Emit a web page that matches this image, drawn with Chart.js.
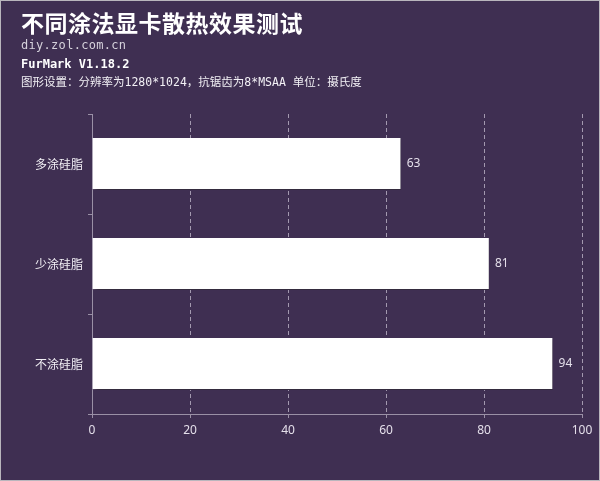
<!DOCTYPE html>
<html>
<head>
<meta charset="utf-8">
<script src="https://cdn.jsdelivr.net/npm/chart.js@4/dist/chart.umd.min.js"></script>
<style>
  html, body { margin: 0; padding: 0; }
  body { width: 600px; height: 481px; overflow: hidden; }
  .frame {
    position: relative; width: 600px; height: 481px; box-sizing: border-box;
    background: #3f2f52; border: 1px solid #b9b6bd;
  }
  .frame canvas { position: absolute; left: 0; top: 0; }
  .txt { position: absolute; left: 20px; white-space: nowrap; color: #fff; }
  #title { top: 4px; font: bold 23px "Noto Sans CJK SC", sans-serif; letter-spacing: 0.5px; }
  #site { top: 37px; font: 12px "DejaVu Sans Mono", monospace; color: #d6d2dc; letter-spacing: 0.3px; }
  #bench { top: 56px; font: bold 12px "DejaVu Sans Mono", monospace; }
  #setting { top: 72px; font: 11.5px "DejaVu Sans Mono", "Noto Sans CJK SC", monospace; color: #f2f0f5; }
</style>
</head>
<body>
<div class="frame">
  <canvas id="tempChart" width="598" height="479"></canvas>
  <div class="txt" id="title">不同涂法显卡散热效果测试</div>
  <div class="txt" id="site">diy.zol.com.cn</div>
  <div class="txt" id="bench">FurMark V1.18.2</div>
  <div class="txt" id="setting">图形设置：分辨率为1280*1024，抗锯齿为8*MSAA 单位：摄氏度</div>
</div>
<script>
const categories = ["多涂硅脂", "少涂硅脂", "不涂硅脂"];
const temps = [63, 81, 94];
const xTicks = [0, 20, 40, 60, 80, 100];

const LIGHT = "#e4dfea";

// drop shadow under the bars
const barShadow = {
    id: "barShadow",
    beforeDatasetsDraw(chart) {
        const ctx = chart.ctx;
        ctx.save();
        ctx.shadowColor = "rgba(0,0,0,0.55)";
        ctx.shadowBlur = 4;
        ctx.shadowOffsetX = 2;
        ctx.shadowOffsetY = 2;
    },
    afterDatasetsDraw(chart) {
        chart.ctx.restore();
    }
};

// numbers at the end of each bar
const valueLabels = {
    id: "valueLabels",
    afterDraw(chart) {
        const ctx = chart.ctx;
        const meta = chart.getDatasetMeta(0);
        ctx.save();
        ctx.font = "12px 'Noto Sans', sans-serif";
        ctx.fillStyle = LIGHT;
        ctx.textAlign = "left";
        ctx.textBaseline = "middle";
        meta.data.forEach((bar, i) => {
            ctx.fillText(String(temps[i]), bar.x + 6, bar.y);
        });
        ctx.restore();
    }
};

new Chart(document.getElementById("tempChart").getContext("2d"), {
    type: "bar",
    data: {
        labels: categories,
        datasets: [{
            data: temps,
            backgroundColor: "#ffffff",
            borderColor: "#5a4a6c",
            borderWidth: { bottom: 1 },
            borderSkipped: false,
            barPercentage: 0.65,
            categoryPercentage: 0.8
        }]
    },
    options: {
        indexAxis: "y",
        responsive: false,
        animation: false,
        layout: { padding: { top: 113, right: 17, left: 0, bottom: 0 } },
        plugins: { legend: { display: false }, tooltip: { enabled: false } },
        scales: {
            x: {
                min: 0,
                max: 100,
                afterBuildTicks: scale => { scale.ticks = xTicks.map(v => ({ value: v })); },
                afterFit: scale => { scale.height = 66; },
                border: { display: true, color: "#9a90a6", width: 1, dash: [4, 3] },
                grid: {
                    color: "rgba(230,225,238,0.6)",
                    tickBorderDash: [],
                    tickColor: "#9a90a6",
                    tickLength: 4,
                    lineWidth: 1
                },
                ticks: {
                    color: LIGHT,
                    padding: 5,
                    font: { family: "'Noto Sans', sans-serif", size: 12 }
                }
            },
            y: {
                afterFit: scale => { scale.width = 91; },
                border: { display: true, color: "#9a90a6", width: 1 },
                grid: {
                    offset: true,
                    drawOnChartArea: false,
                    tickColor: "#9a90a6",
                    tickLength: 4
                },
                ticks: {
                    color: "#f2f0f5",
                    padding: 5,
                    font: { family: "'Noto Sans CJK SC', sans-serif", size: 12 }
                }
            }
        }
    },
    plugins: [barShadow, valueLabels]
});
</script>
</body>
</html>
